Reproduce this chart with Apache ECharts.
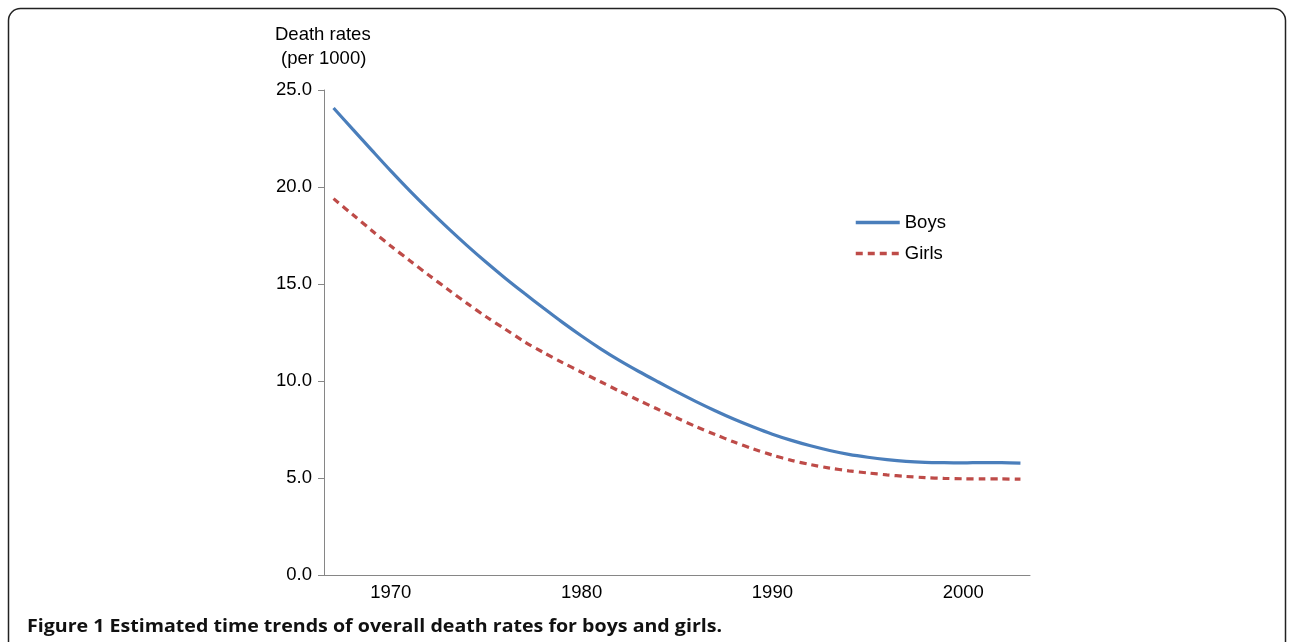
<!DOCTYPE html>
<html>
<head>
<meta charset="utf-8">
<script src="https://cdn.jsdelivr.net/npm/echarts@6/dist/echarts.min.js"></script>
<style>html,body{margin:0;padding:0;background:#fff;}#c{width:1292px;height:642px;}</style>
</head>
<body>
<div id="c"></div>
<script>
const years = [];
for (let y = 1967; y <= 2003; y++) years.push(String(y));
const xTickLabels = ['1970', '1980', '1990', '2000'];
const yTicks = [0, 5, 10, 15, 20, 25];
const boys = [24.07, 22.98, 21.9, 20.83, 19.8, 18.82, 17.88, 16.98, 16.12, 15.3,
  14.52, 13.76, 13.02, 12.32, 11.66, 11.05, 10.49, 9.96, 9.44, 8.94,
  8.47, 8.03, 7.63, 7.26, 6.94, 6.66, 6.42, 6.22, 6.07, 5.95,
  5.86, 5.81, 5.79, 5.78, 5.80, 5.79, 5.77];
const girls = [19.4, 18.58, 17.76, 16.96, 16.2, 15.45, 14.72, 14.0, 13.31, 12.67,
  12.03, 11.47, 10.95, 10.45, 9.96, 9.47, 9.0, 8.54, 8.09, 7.65,
  7.24, 6.85, 6.5, 6.18, 5.91, 5.69, 5.51, 5.37, 5.26, 5.16,
  5.08, 5.02, 4.98, 4.96, 4.95, 4.95, 4.94];

const FONT = '"Liberation Sans", Arial, sans-serif';
const CAP_FONT = '"Open Sans", "Liberation Sans", sans-serif';
const chart = echarts.init(document.getElementById('c'));
chart.setOption({
  animation: false,
  backgroundColor: '#fff',
  grid: { left: 324, right: 262, top: 90, bottom: 67 },
  legend: {
    orient: 'vertical', left: 854, top: 213, padding: 0, itemWidth: 44, itemHeight: 14, itemGap: 12,
    itemStyle: { opacity: 0 },
    lineStyle: { width: 3.5 },
    textStyle: { fontFamily: FONT, fontSize: 18.5, color: '#000' },
    data: ['Boys', 'Girls']
  },
  xAxis: {
    type: 'category', data: years, boundaryGap: true,
    axisLine: { lineStyle: { color: '#868686', width: 1 } },
    axisTick: { show: false },
    axisLabel: {
      interval: 0, margin: 8, fontFamily: FONT, fontSize: 18.5, color: '#000',
      formatter: v => xTickLabels.includes(v) ? v : ''
    },
    splitLine: { show: false }
  },
  yAxis: {
    type: 'value', min: yTicks[0], max: yTicks[yTicks.length - 1], interval: 5,
    axisLine: { show: true, lineStyle: { color: '#868686', width: 1 } },
    axisTick: { show: true, length: 6, lineStyle: { color: '#868686' } },
    axisLabel: { margin: 12, fontFamily: FONT, fontSize: 18.5, color: '#000', formatter: v => v.toFixed(1) },
    splitLine: { show: false }
  },
  series: [
    { name: 'Boys', type: 'line', data: boys, smooth: 0.3, symbol: 'none',
      itemStyle: { color: '#4A7EBB' }, lineStyle: { color: '#4A7EBB', width: 3.2 } },
    { name: 'Girls', type: 'line', data: girls, smooth: 0.3, symbol: 'none',
      itemStyle: { color: '#BE4B48' }, lineStyle: { color: '#BE4B48', width: 3.2, type: [7, 5] } }
  ],
  graphic: [
    { type: 'rect', silent: true, z: -1, shape: { x: 8.5, y: 8.5, width: 1277, height: 660, r: 12 },
      style: { fill: 'none', stroke: '#222', lineWidth: 1.5 } },
    { type: 'text', left: 275, top: 25, style: { text: 'Death rates', font: '18.5px ' + FONT, fill: '#000' } },
    { type: 'text', left: 281, top: 49, style: { text: '(per 1000)', font: '18.5px ' + FONT, fill: '#000' } },
    { type: 'text', x: 27, y: 618, scaleX: 1.12, originX: 0, originY: 0,
      style: { text: 'Figure 1 Estimated time trends of overall death rates for boys and girls.', font: 'bold 17.5px ' + CAP_FONT, fill: '#111' } }
  ]
});
</script>
</body>
</html>
